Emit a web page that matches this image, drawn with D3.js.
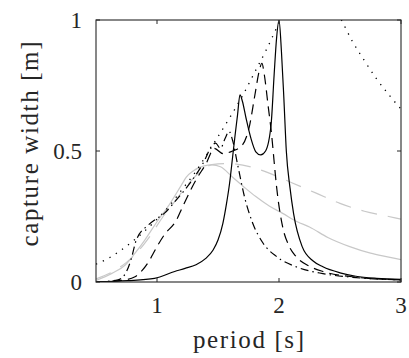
<!DOCTYPE html>
<html><head><meta charset="utf-8">
<script src="https://cdn.jsdelivr.net/npm/d3@7"></script>
<style>html,body{margin:0;padding:0;background:#fff;}svg{display:block;}
text{font-family:"Times New Roman",Tinos,"Liberation Serif","Noto Serif","DejaVu Serif",Times,serif;}</style>
</head><body>
<svg id="c" width="409" height="358"></svg>
<script>
// ---- data (period [s], capture width [m]) ----
const xTicks = [1, 2, 3];
const yTicks = [0, 0.5, 1];
const yTickLabels = ["0", "0.5", "1"];
const xTickLabels = ["1", "2", "3"];

// upper bound (dotted), rising branch
const boundRiseT = [0.5,0.6,0.7,0.8,0.9,1.0,1.1,1.2,1.3,1.4,1.5,1.6,1.7,1.8,1.9,2.0,2.1];
const boundRiseV = [0.068,0.09,0.12,0.155,0.195,0.24,0.29,0.35,0.41,0.48,0.555,0.63,0.71,0.80,0.89,0.99,1.09];
// upper bound (dotted), falling branch
const boundFallT = [2.45,2.5,2.6,2.7,2.8,2.9,3.0];
const boundFallV = [1.05,1.01,0.92,0.845,0.775,0.715,0.66];

// solid black
const solidT = [0.5,0.76,0.98,1.145,1.23,1.32,1.40,1.46,1.50,1.54,1.57,1.595,1.62,1.64,1.66,1.68,1.70,1.73,1.77,1.81,1.85,1.89,1.935,1.96,1.98,2.0,2.02,2.04,2.06,2.09,2.12,2.19,2.28,2.36,2.5,2.63,2.8,3.0];
const solidV = [0.0,0.005,0.014,0.04,0.052,0.066,0.09,0.122,0.16,0.224,0.30,0.377,0.478,0.56,0.637,0.714,0.69,0.625,0.548,0.497,0.485,0.50,0.60,0.79,0.93,1.0,0.88,0.70,0.50,0.36,0.26,0.135,0.08,0.058,0.035,0.022,0.014,0.01];

// dash-dot black
const dashDotT = [0.5,0.68,0.75,0.79,0.83,0.93,1.0,1.06,1.145,1.27,1.38,1.45,1.48,1.52,1.56,1.59,1.62,1.66,1.72,1.78,1.87,1.98,2.14,2.36,2.6,3.0];
const dashDotV = [0.0,0.008,0.04,0.09,0.16,0.218,0.243,0.262,0.306,0.377,0.455,0.52,0.53,0.51,0.55,0.575,0.54,0.45,0.32,0.23,0.148,0.097,0.058,0.032,0.018,0.008];

// long-dash black
const longDashT = [0.5,0.71,0.82,0.87,0.94,0.97,1.06,1.16,1.21,1.32,1.40,1.47,1.54,1.62,1.70,1.76,1.80,1.84,1.86,1.88,1.91,1.94,1.96,1.98,2.03,2.08,2.14,2.25,2.36,2.6,3.0];
const longDashV = [0.0,0.006,0.02,0.04,0.084,0.11,0.18,0.237,0.287,0.39,0.45,0.51,0.49,0.50,0.523,0.60,0.707,0.81,0.835,0.79,0.676,0.56,0.46,0.364,0.21,0.14,0.097,0.06,0.04,0.02,0.008];

// grey solid
const greySolidT = [0.5,0.63,0.74,0.82,0.9,1.0,1.1,1.2,1.24,1.3,1.38,1.45,1.52,1.62,1.72,1.81,1.92,2.03,2.15,2.25,2.4,2.58,2.75,2.9,3.0];
const greySolidV = [0.006,0.033,0.065,0.11,0.16,0.23,0.295,0.37,0.40,0.425,0.442,0.447,0.44,0.40,0.36,0.326,0.29,0.262,0.23,0.21,0.17,0.135,0.11,0.095,0.085];

// grey dashed
const greyDashT = [0.5,0.65,0.75,0.85,0.95,1.05,1.15,1.25,1.35,1.45,1.55,1.65,1.8,1.95,2.1,2.3,2.5,2.7,2.9,3.0];
const greyDashV = [0.012,0.043,0.075,0.12,0.18,0.25,0.31,0.37,0.42,0.448,0.452,0.45,0.435,0.41,0.38,0.34,0.30,0.27,0.25,0.24];

// ---- drawing ----
const L = 96, R = 401, T = 20, B = 282;
const x = d3.scaleLinear().domain([0.5, 3]).range([L, R]);
const y = d3.scaleLinear().domain([0, 1]).range([B, T]);
const svg = d3.select("#c");

svg.append("defs").append("clipPath").attr("id","clip")
  .append("rect").attr("x", L).attr("y", T).attr("width", R - L).attr("height", B - T);

const line = d3.line().x(d => x(d[0])).y(d => y(d[1])).curve(d3.curveMonotoneX);
const zip = (a, b) => a.map((v, i) => [v, b[i]]);

const g = svg.append("g").attr("clip-path", "url(#clip)");
const series = [
  {t: greySolidT, v: greySolidV, color: "#c8c8c8", dash: null, w: 1.2},
  {t: greyDashT, v: greyDashV, color: "#c8c8c8", dash: "16,11", w: 1.2},
  {t: boundRiseT, v: boundRiseV, color: "#000", dash: "1.3,6.2", w: 1.3},
  {t: boundFallT, v: boundFallV, color: "#000", dash: "1.3,6.2", w: 1.3},
  {t: longDashT, v: longDashV, color: "#000", dash: "10,6", w: 1.2},
  {t: dashDotT, v: dashDotV, color: "#000", dash: "8,4,1.5,4", w: 1.2},
  {t: solidT, v: solidV, color: "#000", dash: null, w: 1.2}
];
series.forEach(s => {
  g.append("path").attr("d", line(zip(s.t, s.v)))
    .attr("fill", "none").attr("stroke", s.color).attr("stroke-width", s.w)
    .attr("stroke-dasharray", s.dash);
});

// axes box
const ax = svg.append("g");
const tl = 4;
ax.selectAll(".xtb").data(xTicks).enter().append("line")
  .attr("x1", d => x(d)).attr("x2", d => x(d)).attr("y1", B).attr("y2", B - tl)
  .attr("stroke", "#262626").attr("stroke-width", 1);
ax.selectAll(".xtt").data(xTicks).enter().append("line")
  .attr("x1", d => x(d)).attr("x2", d => x(d)).attr("y1", T).attr("y2", T + tl)
  .attr("stroke", "#262626").attr("stroke-width", 1);
ax.selectAll(".ytl").data(yTicks).enter().append("line")
  .attr("x1", L).attr("x2", L + tl).attr("y1", d => y(d)).attr("y2", d => y(d))
  .attr("stroke", "#262626").attr("stroke-width", 1);
ax.selectAll(".ytr").data(yTicks).enter().append("line")
  .attr("x1", R).attr("x2", R - tl).attr("y1", d => y(d)).attr("y2", d => y(d))
  .attr("stroke", "#262626").attr("stroke-width", 1);
ax.append("rect").attr("x", L).attr("y", T).attr("width", R - L).attr("height", B - T)
  .attr("fill", "none").attr("stroke", "#262626").attr("stroke-width", 1.1);

ax.selectAll(".xl").data(xTicks).enter().append("text")
  .attr("x", d => x(d)).attr("y", 313).attr("text-anchor", "middle")
  .attr("font-size", 23).attr("fill", "#262626")
  .text((d, i) => xTickLabels[i]);
ax.selectAll(".yl").data(yTicks).enter().append("text")
  .attr("x", 82).attr("y", d => y(d) + 8).attr("text-anchor", "end")
  .attr("font-size", 23).attr("fill", "#262626")
  .text((d, i) => yTickLabels[i]);

svg.append("text").attr("x", (L + R) / 2).attr("y", 348).attr("text-anchor", "middle")
  .attr("font-size", 25).attr("fill", "#262626")
  .attr("textLength", 111).attr("lengthAdjust", "spacing")
  .text("period [s]");
svg.append("text").attr("transform", "translate(38,144) rotate(-90)").attr("text-anchor", "middle")
  .attr("font-size", 25).attr("fill", "#262626")
  .attr("textLength", 205).attr("lengthAdjust", "spacing")
  .text("capture width [m]");
</script>
</body></html>
